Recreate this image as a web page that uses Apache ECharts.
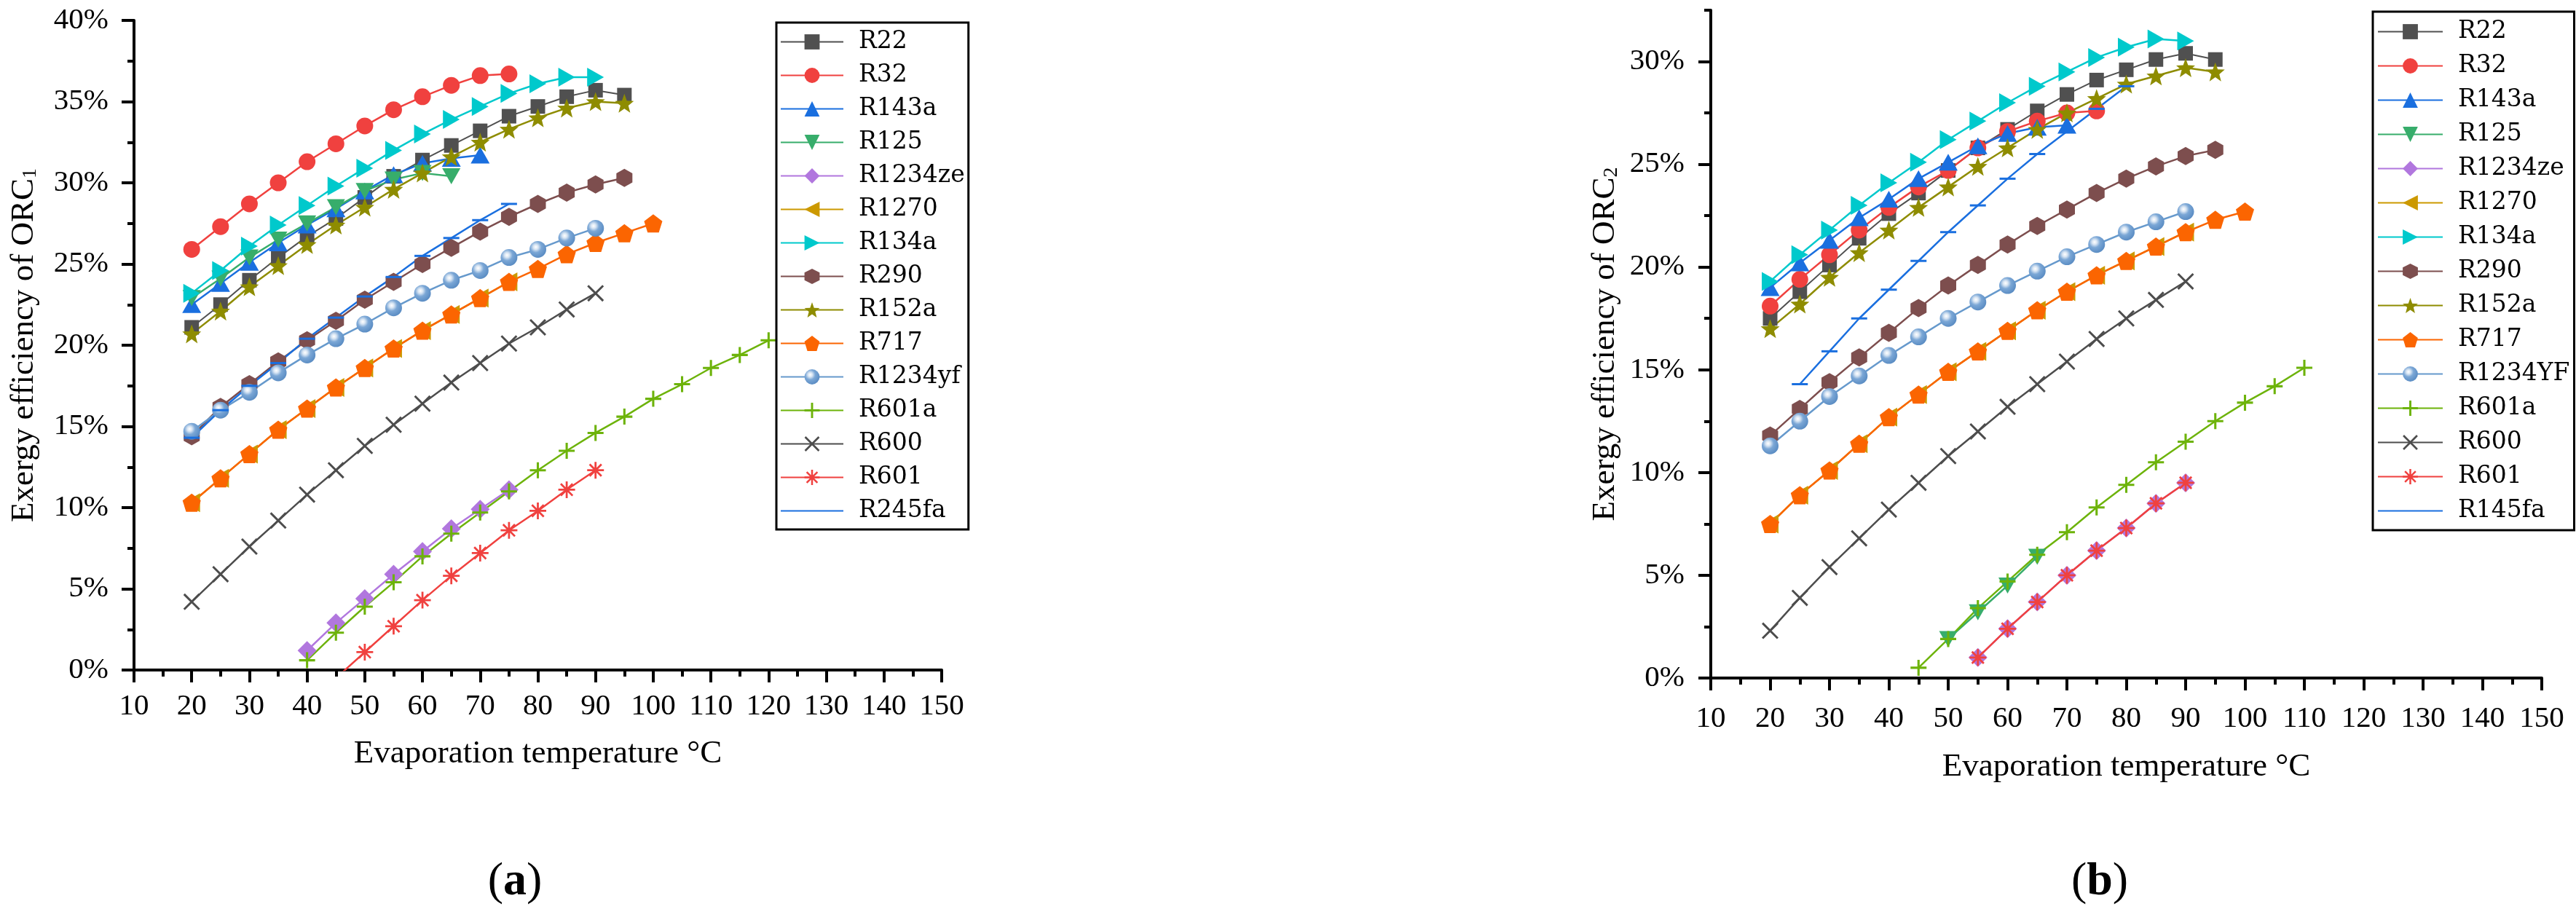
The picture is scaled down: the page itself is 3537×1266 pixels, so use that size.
<!DOCTYPE html>
<html>
<head>
<meta charset="utf-8">
<title>Exergy efficiency of ORC</title>
<script src="https://cdn.jsdelivr.net/npm/echarts@6/dist/echarts.min.js"></script>
<style>
  html, body { margin: 0; padding: 0; background: #fff; }
  #wrap { position: relative; width: 3537px; height: 1266px; }
  #chartA { position: absolute; left: 0; top: 0; width: 1768px; height: 1266px; }
  #chartB { position: absolute; left: 1768px; top: 0; width: 1769px; height: 1266px; }
</style>
</head>
<body>
<div id="wrap"><div id="chartA"></div><div id="chartB"></div></div>
<script>
  // evaporation temperatures (°C)
  var t20to65 = [20, 25, 30, 35, 40, 45, 50, 55, 60, 65];
  var t20to70 = [20, 25, 30, 35, 40, 45, 50, 55, 60, 65, 70];
  var t20to75 = [20, 25, 30, 35, 40, 45, 50, 55, 60, 65, 70, 75];
  var t20to90 = [20, 25, 30, 35, 40, 45, 50, 55, 60, 65, 70, 75, 80, 85, 90];
  var t20to95 = [20, 25, 30, 35, 40, 45, 50, 55, 60, 65, 70, 75, 80, 85, 90, 95];
  var t20to100 = [20, 25, 30, 35, 40, 45, 50, 55, 60, 65, 70, 75, 80, 85, 90, 95, 100];
  var t25to80 = [25, 30, 35, 40, 45, 50, 55, 60, 65, 70, 75, 80];
  var t40to75 = [40, 45, 50, 55, 60, 65, 70, 75];
  var t40to120 = [40, 45, 50, 55, 60, 65, 70, 75, 80, 85, 90, 95, 100, 105, 110, 115, 120];
  var t45to90 = [45, 50, 55, 60, 65, 70, 75, 80, 85, 90];
  var t45to110 = [45, 50, 55, 60, 65, 70, 75, 80, 85, 90, 95, 100, 105, 110];
  var t50to65 = [50, 55, 60, 65];
  var t55to90 = [55, 60, 65, 70, 75, 80, 85, 90];

  // (a) exergy efficiency of ORC1, %
  var a_R22 = [21.1, 22.5, 24.0, 25.4, 26.7, 27.8, 29.1, 30.4, 31.4, 32.3, 33.2, 34.1, 34.7, 35.3, 35.7, 35.4];
  var a_R32 = [25.9, 27.3, 28.7, 30.0, 31.3, 32.4, 33.5, 34.5, 35.3, 36.0, 36.6, 36.7];
  var a_R143a = [22.5, 23.8, 25.1, 26.3, 27.4, 28.4, 29.5, 30.5, 31.2, 31.5, 31.7];
  var a_R125 = [22.9, 24.1, 25.4, 26.5, 27.5, 28.5, 29.5, 30.2, 30.6, 30.4];
  var a_R1234ze = [1.2, 2.9, 4.4, 5.9, 7.3, 8.7, 9.9, 11.1];
  var a_R1270 = [10.3, 11.8, 13.3, 14.8, 16.1, 17.4, 18.6, 19.8, 20.9, 21.9, 22.9, 23.9];
  var a_R134a = [23.2, 24.6, 26.1, 27.4, 28.6, 29.8, 30.9, 32.0, 33.0, 33.9, 34.7, 35.5, 36.1, 36.5, 36.5];
  var a_R290 = [14.4, 16.2, 17.6, 19.0, 20.3, 21.5, 22.8, 23.9, 25.0, 26.0, 27.0, 27.9, 28.7, 29.4, 29.9, 30.3];
  var a_R152a = [20.7, 22.1, 23.6, 24.9, 26.2, 27.4, 28.5, 29.6, 30.6, 31.6, 32.5, 33.3, 34.0, 34.6, 35.0, 34.9];
  var a_R717 = [10.3, 11.8, 13.3, 14.8, 16.1, 17.4, 18.6, 19.8, 20.9, 21.9, 22.9, 23.9, 24.7, 25.6, 26.3, 26.9, 27.5];
  var a_R1234yf = [14.7, 16.0, 17.1, 18.3, 19.4, 20.4, 21.3, 22.3, 23.2, 24.0, 24.6, 25.4, 25.9, 26.6, 27.2];
  var a_R601a = [0.6, 2.3, 3.9, 5.4, 7.0, 8.4, 9.7, 11.0, 12.3, 13.5, 14.6, 15.6, 16.7, 17.6, 18.6, 19.4, 20.3];
  var a_R600 = [4.2, 5.9, 7.6, 9.2, 10.8, 12.3, 13.8, 15.1, 16.4, 17.7, 18.9, 20.1, 21.1, 22.2, 23.2];
  var a_R601 = [-0.5, 1.1, 2.7, 4.3, 5.8, 7.2, 8.6, 9.8, 11.1, 12.3];
  var a_R245fa = [14.3, 16.0, 17.5, 18.9, 20.4, 21.7, 23.0, 24.2, 25.5, 26.6, 27.7, 28.7];

  // (b) exergy efficiency of ORC2, %
  var b_R22 = [17.5, 18.8, 20.1, 21.4, 22.6, 23.6, 24.7, 25.8, 26.7, 27.6, 28.4, 29.1, 29.6, 30.1, 30.4, 30.1];
  var b_R32 = [18.1, 19.4, 20.6, 21.8, 22.9, 23.9, 24.7, 25.8, 26.6, 27.1, 27.5, 27.6];
  var b_R143a = [19.0, 20.2, 21.3, 22.4, 23.3, 24.3, 25.1, 25.9, 26.5, 26.8, 26.9];
  var b_R125 = [1.9, 3.2, 4.5, 5.9];
  var b_R1234ze = [1.0, 2.4, 3.7, 5.0, 6.2, 7.3, 8.5, 9.5];
  var b_R1270 = [7.5, 8.9, 10.1, 11.4, 12.7, 13.8, 14.9, 15.9, 16.9, 17.9, 18.8, 19.6, 20.3, 21.0, 21.7];
  var b_R134a = [19.3, 20.6, 21.8, 23.0, 24.1, 25.1, 26.2, 27.1, 28.0, 28.8, 29.5, 30.2, 30.7, 31.1, 31.0];
  var b_R290 = [11.8, 13.1, 14.4, 15.6, 16.8, 18.0, 19.1, 20.1, 21.1, 22.0, 22.8, 23.6, 24.3, 24.9, 25.4, 25.7];
  var b_R152a = [17.0, 18.2, 19.5, 20.7, 21.8, 22.9, 23.9, 24.9, 25.8, 26.7, 27.5, 28.2, 28.9, 29.3, 29.7, 29.5];
  var b_R717 = [7.5, 8.9, 10.1, 11.4, 12.7, 13.8, 14.9, 15.9, 16.9, 17.9, 18.8, 19.6, 20.3, 21.0, 21.7, 22.3, 22.7];
  var b_R1234YF = [11.3, 12.5, 13.7, 14.7, 15.7, 16.6, 17.5, 18.3, 19.1, 19.8, 20.5, 21.1, 21.7, 22.2, 22.7];
  var b_R601a = [0.5, 1.9, 3.4, 4.7, 6.0, 7.1, 8.3, 9.4, 10.5, 11.5, 12.5, 13.4, 14.2, 15.1];
  var b_R600 = [2.3, 3.9, 5.4, 6.8, 8.2, 9.5, 10.8, 12.0, 13.2, 14.3, 15.4, 16.5, 17.5, 18.4, 19.3];
  var b_R601 = [1.0, 2.4, 3.7, 5.0, 6.2, 7.3, 8.5, 9.5];
  var b_R145fa = [14.3, 15.9, 17.5, 18.9, 20.3, 21.7, 23.0, 24.3, 25.5, 26.6, 27.7, 28.8];

  // axis ticks
  var xMin = 10, xMax = 150, xStep = 10;
  var yMajorA = [0, 5, 10, 15, 20, 25, 30, 35, 40];
  var yMinorA = [2.5, 7.5, 12.5, 17.5, 22.5, 27.5, 32.5, 37.5];
  var yMajorB = [0, 5, 10, 15, 20, 25, 30];
  var yMinorB = [2.5, 7.5, 12.5, 17.5, 22.5, 27.5, 32.5];

  // symbol shapes
  function ptsPath(pts) {
    return pts.map(function (p, i) {
      return (i ? 'L' : 'M') + p[0].toFixed(3) + ',' + p[1].toFixed(3);
    }).join('') + 'Z';
  }
  function ringPath(n, radii) {
    var pts = [];
    for (var i = 0; i < n; i++) {
      var a = (-90 + i * 360 / n) * Math.PI / 180;
      var r = radii[i % radii.length];
      pts.push([5 + r * Math.cos(a), 5 + r * Math.sin(a)]);
    }
    return 'path://' + ptsPath(pts);
  }
  function barsPath(angles, hw) {
    var d = '';
    angles.forEach(function (deg) {
      var a = deg * Math.PI / 180, ux = Math.cos(a), uy = Math.sin(a), nx = -uy, ny = ux;
      d += ptsPath([
        [5 + 5 * ux + hw * nx, 5 + 5 * uy + hw * ny],
        [5 + 5 * ux - hw * nx, 5 + 5 * uy - hw * ny],
        [5 - 5 * ux - hw * nx, 5 - 5 * uy - hw * ny],
        [5 - 5 * ux + hw * nx, 5 - 5 * uy + hw * ny]
      ]);
    });
    return 'path://' + d;
  }

  var sphere = {
    type: 'radial', x: 0.38, y: 0.36, r: 0.66,
    colorStops: [
      { offset: 0, color: '#ffffff' },
      { offset: 0.22, color: '#d8e5f3' },
      { offset: 0.5, color: '#7ba7d6' },
      { offset: 1, color: '#5a8cc3' }
    ]
  };

  var styles = {
    R22: { color: '#505050', symbol: 'rect', size: 20, width: 2 },
    R32: { color: '#F0413F', symbol: 'circle', size: 23 },
    R143a: { color: '#1A6FDF', symbol: 'triangle', size: [26, 23] },
    R125: { color: '#37AD6B', symbol: 'path://M0,0L10,0L5,9Z', size: [25, 22] },
    R1234ze: { color: '#B177DE', symbol: 'diamond', size: 26 },
    R1270: { color: '#CC9900', symbol: 'path://M10,0L10,10L0,5Z', size: [23, 26] },
    R134a: { color: '#00C9CC', symbol: 'path://M0,0L10,5L0,10Z', size: [23, 26] },
    R290: { color: '#7D4E4E', symbol: ringPath(6, [5]), size: [22, 25] },
    R152a: { color: '#8E8C00', symbol: ringPath(10, [5, 2.1]), size: 26 },
    R717: { color: '#FB6501', symbol: ringPath(5, [5]), size: 25 },
    R1234yf: { color: '#6699CC', fill: sphere, symbol: 'circle', size: 23 },
    R601a: { color: '#6DB30A', symbol: barsPath([0, 90], 0.7), size: 22 },
    R600: { color: '#4D4D4D', symbol: barsPath([45, 135], 0.5), size: 23 },
    R601: { color: '#F0413F', symbol: barsPath([0, 45, 90, 135], 0.6), size: 23 },
    R245fa: { color: '#1A6FDF', symbol: 'rect', size: [22, 3], bare: true }
  };
  styles.R1234YF = styles.R1234yf;
  styles.R145fa = styles.R245fa;

  function pairs(ts, vs) {
    return ts.map(function (t, i) { return [t, vs[i]]; });
  }

  function makeSeries(list) {
    return list.map(function (item) {
      var s = styles[item[0]];
      return {
        name: item[0],
        type: 'line',
        data: pairs(item[1], item[2]),
        symbol: s.symbol,
        symbolSize: s.size,
        showSymbol: true,
        clip: true,
        itemStyle: { color: s.fill || s.color, borderWidth: 0 },
        lineStyle: { color: s.color, width: s.width || 2.5 },
        emphasis: { disabled: true },
        animation: false
      };
    });
  }

  function legendData(list) {
    return list.map(function (item) {
      if (styles[item[0]].bare) {
        return { name: item[0], itemStyle: { opacity: 0, color: 'rgba(0,0,0,0)' } };
      }
      return { name: item[0] };
    });
  }

  var serif = 'Liberation Serif';

  function buildOption(cfg) {
    return {
      backgroundColor: '#fff',
      animation: false,
      grid: {
        left: cfg.grid[0], top: cfg.grid[1], width: cfg.grid[2], height: cfg.grid[3],
        containLabel: false, outerBoundsMode: 'none'
      },
      legend: {
        orient: 'vertical', align: 'left',
        left: cfg.legend[0], top: cfg.legend[1],
        itemWidth: cfg.legend[2], itemHeight: 26, itemGap: cfg.legend[3],
        padding: cfg.legendPad,
        borderColor: '#000', borderWidth: 3, backgroundColor: '#fff',
        selectedMode: false,
        textStyle: { fontFamily: 'DejaVu Serif', fontSize: 33, color: '#000', padding: [0, 0, 0, 16] },
        data: legendData(cfg.series)
      },
      xAxis: {
        type: 'value', min: xMin, max: xMax, interval: xStep,
        name: 'Evaporation temperature °C', nameLocation: 'middle', nameGap: cfg.xNameGap,
        nameTextStyle: { fontFamily: serif, fontSize: 45, color: '#000' },
        axisLine: { show: true, onZero: false, lineStyle: { color: '#000', width: 4 } },
        axisTick: { show: true, length: 17, lineStyle: { color: '#000', width: 4 } },
        minorTick: { show: true, splitNumber: 2, length: 9, lineStyle: { color: '#000', width: 4 } },
        splitLine: { show: false },
        minorSplitLine: { show: false },
        axisLabel: { fontFamily: serif, fontSize: 41, color: '#000', margin: cfg.xLabelMargin, hideOverlap: false }
      },
      yAxis: [{
        type: 'value', min: 0, max: cfg.yMax, interval: 5, position: 'left',
        name: cfg.yName, nameLocation: 'middle', nameGap: cfg.yNameGap,
        nameTextStyle: {
          fontFamily: serif, fontSize: 45, color: '#000',
          rich: { s: { fontFamily: serif, fontSize: 28, color: '#000', verticalAlign: 'bottom', lineHeight: 14 } }
        },
        axisLine: { show: true, onZero: false, lineStyle: { color: '#000', width: 4 } },
        axisTick: { show: true, length: 17, customValues: cfg.yMajor, lineStyle: { color: '#000', width: 4 } },
        splitLine: { show: false },
        axisLabel: {
          fontFamily: serif, fontSize: 41, color: '#000', margin: cfg.yLabelMargin,
          customValues: cfg.yMajor,
          formatter: function (v) { return v % 5 === 0 ? v + '%' : ''; }
        }
      }, {
        type: 'value', min: 0, max: cfg.yMax, interval: 2.5, position: 'left', offset: 0,
        axisLine: { show: false },
        axisTick: { show: true, length: 9, customValues: cfg.yMinor, lineStyle: { color: '#000', width: 4 } },
        axisLabel: { show: false },
        splitLine: { show: false }
      }],
      graphic: [{
        type: 'text', x: cfg.tag[0], y: cfg.tag[1],
        style: {
          text: '({b|' + cfg.tag[2] + '})',
          fontFamily: serif, fontSize: 64, fill: '#000',
          align: 'center', verticalAlign: 'middle',
          rich: { b: { fontFamily: serif, fontSize: 64, fontWeight: 'bold', fill: '#000' } }
        }
      }],
      series: makeSeries(cfg.series)
    };
  }

  var seriesA = [
    ['R22', t20to95, a_R22], ['R32', t20to75, a_R32], ['R143a', t20to70, a_R143a],
    ['R125', t20to65, a_R125], ['R1234ze', t40to75, a_R1234ze], ['R1270', t20to75, a_R1270],
    ['R134a', t20to90, a_R134a], ['R290', t20to95, a_R290], ['R152a', t20to95, a_R152a],
    ['R717', t20to100, a_R717], ['R1234yf', t20to90, a_R1234yf], ['R601a', t40to120, a_R601a],
    ['R600', t20to90, a_R600], ['R601', t45to90, a_R601], ['R245fa', t20to75, a_R245fa]
  ];
  var seriesB = [
    ['R22', t20to95, b_R22], ['R32', t20to75, b_R32], ['R143a', t20to70, b_R143a],
    ['R125', t50to65, b_R125], ['R1234ze', t55to90, b_R1234ze], ['R1270', t20to90, b_R1270],
    ['R134a', t20to90, b_R134a], ['R290', t20to95, b_R290], ['R152a', t20to95, b_R152a],
    ['R717', t20to100, b_R717], ['R1234YF', t20to90, b_R1234YF], ['R601a', t45to110, b_R601a],
    ['R600', t20to90, b_R600], ['R601', t55to90, b_R601], ['R145fa', t25to80, b_R145fa]
  ];

  var chartA = echarts.init(document.getElementById('chartA'));
  chartA.setOption(buildOption({
    grid: [184, 28, 1109, 892],
    legend: [1066, 31, 86, 13],
    legendPad: [10, 5, 9, 5],
    yMax: 40, yMajor: yMajorA, yMinor: yMinorA,
    yName: 'Exergy efficiency of ORC{s|1}',
    yNameGap: 128, yLabelMargin: 35,
    xNameGap: 93, xLabelMargin: 30,
    tag: [707, 1211, 'a'],
    series: seriesA
  }));

  var chartB = echarts.init(document.getElementById('chartB'));
  chartB.setOption(buildOption({
    grid: [581, 14, 1141, 917],
    legend: [1490, 16, 89, 14],
    legendPad: [11, 6, 10, 6],
    yMax: 32.5, yMajor: yMajorB, yMinor: yMinorB,
    yName: 'Exergy efficiency of ORC{s|2}',
    yNameGap: 122, yLabelMargin: 36,
    xNameGap: 100, xLabelMargin: 36,
    tag: [1115, 1211, 'b'],
    series: seriesB
  }));
</script>
</body>
</html>
